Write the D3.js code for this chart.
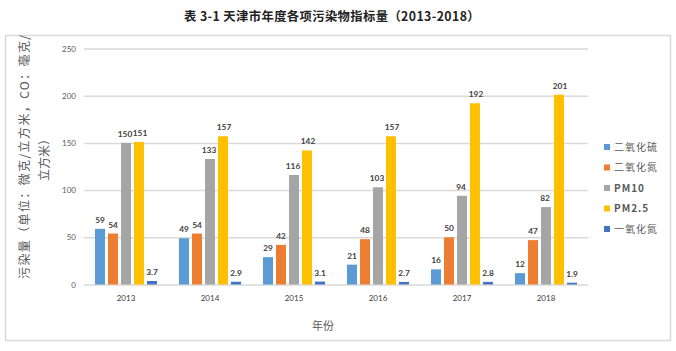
<!DOCTYPE html>
<html>
<head>
<meta charset="utf-8">
<script src="https://cdn.jsdelivr.net/npm/d3@7"></script>
<style>
  body { margin: 0; background: #fff; }
  svg { display: block; font-family: "Noto Sans CJK SC", "Noto Sans", sans-serif; }
</style>
</head>
<body>
<svg width="676" height="351"></svg>
<script>
(function (d3) {
  'use strict';

  const years = ['2013', '2014', '2015', '2016', '2017', '2018'];
  const seriesNames = ['二氧化硫', '二氧化氮', 'PM10', 'PM2.5', '一氧化氮'];
  const so2 = [59, 49, 29, 21, 16, 12];
  const no2 = [54, 54, 42, 48, 50, 47];
  const pm10 = [150, 133, 116, 103, 94, 82];
  const pm25 = [151, 157, 142, 157, 192, 201];
  const co = [3.7, 2.9, 3.1, 2.7, 2.8, 1.9];
  const yTicks = [0, 50, 100, 150, 200, 250];
  const colors = ['#5B9BD5', '#ED7D31', '#A5A5A5', '#FFC000', '#4472C4'];

  const values = [so2, no2, pm10, pm25, co];

  const svg = d3.select('svg');

  // outer frame
  svg.append('rect')
      .attr('x', 5.5).attr('y', 35.5)
      .attr('width', 665).attr('height', 305)
      .attr('fill', 'none')
      .attr('stroke', '#d9d9d9')
      .attr('stroke-width', 1.5);

  svg.append('text')
      .attr('x', 332).attr('y', 21)
      .attr('text-anchor', 'middle')
      .attr('font-size', 12.3)
      .attr('font-weight', 'bold')
      .attr('fill', '#222')
      .attr('letter-spacing', 0.4)
      .text('表 3-1 天津市年度各项污染物指标量（2013-2018）');

  const xScale = d3.scaleBand()
      .domain(years)
      .range([84, 588])
      .paddingInner(0.262)
      .paddingOuter(0.131);

  const xInner = d3.scaleBand()
      .domain(seriesNames)
      .range([0, xScale.bandwidth()])
      .paddingInner(0.23);

  const yScale = d3.scaleLinear()
      .domain([0, 250])
      .range([284.5, 48.5]);

  const color = d3.scaleOrdinal(seriesNames, colors);

  // gridlines + y labels
  const yAxis = d3.axisLeft(yScale)
      .tickValues(yTicks)
      .tickSize(-(588 - 84))
      .tickPadding(8);
  const yAxisG = svg.append('g')
      .attr('transform', 'translate(84,0)')
      .call(yAxis);
  yAxisG.select('.domain').remove();
  yAxisG.selectAll('.tick line')
      .attr('stroke', '#d9d9d9')
      .attr('stroke-width', 1.5);
  yAxisG.selectAll('.tick text')
      .attr('font-size', 8)
      .attr('fill', '#595959')
      .attr('font-family', 'Lato, "Noto Sans", sans-serif');

  // x labels
  const xAxis = d3.axisBottom(xScale).tickSize(0).tickPadding(11);
  const xAxisG = svg.append('g')
      .attr('transform', 'translate(0,284.5)')
      .call(xAxis);
  xAxisG.select('.domain').remove();
  xAxisG.selectAll('.tick text')
      .attr('font-size', 8)
      .attr('fill', '#404040')
      .attr('font-family', 'Lato, "Noto Sans", sans-serif');

  // bars
  const rows = years.map((yr, i) => ({
    year: yr,
    items: seriesNames.map((s, j) => ({ name: s, value: values[j][i], j }))
  }));

  const groups = svg.selectAll('g.year').data(rows)
    .enter().append('g')
      .attr('class', 'year')
      .attr('transform', d => `translate(${xScale(d.year)},0)`);

  groups.selectAll('rect').data(d => d.items)
    .enter().append('rect')
      .attr('x', d => xInner(d.name))
      .attr('y', d => yScale(d.value))
      .attr('width', xInner.bandwidth())
      .attr('height', d => yScale(0) - yScale(d.value))
      .attr('fill', d => color(d.name));

  groups.selectAll('text.lbl').data(d => d.items)
    .enter().append('text')
      .attr('class', 'lbl')
      .attr('x', d => xInner(d.name) + xInner.bandwidth() / 2)
      .attr('y', d => yScale(d.value) - 6)
      .attr('dx', d => d.j === 2 ? -1 : d.j === 3 ? 1 : 0)
      .attr('text-anchor', 'middle')
      .attr('font-size', 8.3)
      .attr('font-weight', 'bold')
      .attr('fill', '#404040')
      .attr('font-family', 'Lato, "Noto Sans", sans-serif')
      .text(d => d.value);

  // axis titles
  const yt = svg.append('text')
      .attr('transform', 'translate(29,157) rotate(-90)')
      .attr('text-anchor', 'middle')
      .attr('font-size', 12)
      .attr('fill', '#595959');
  yt.append('tspan')
      .attr('x', 0).attr('y', 0)
      .attr('textLength', 244)
      .attr('lengthAdjust', 'spacing')
      .text('污染量（单位：微克/立方米，CO：毫克/');
  yt.append('tspan')
      .attr('x', 0).attr('y', 20)
      .text('立方米）');

  svg.append('text')
      .attr('x', 323).attr('y', 330)
      .attr('text-anchor', 'middle')
      .attr('font-size', 11)
      .attr('fill', '#595959')
      .text('年份');

  // legend
  const legend = svg.selectAll('g.leg').data(seriesNames)
    .enter().append('g')
      .attr('class', 'leg')
      .attr('transform', (d, i) => `translate(604,${147 + i * 20.5})`);
  legend.append('rect')
      .attr('x', 0).attr('y', -3)
      .attr('width', 6).attr('height', 6)
      .attr('fill', d => color(d));
  legend.append('text')
      .attr('x', 10).attr('y', 3.5)
      .attr('font-size', 10)
      .attr('fill', '#595959')
      .attr('font-weight', d => d.startsWith('PM') ? 'bold' : 'normal')
      .attr('letter-spacing', 1)
      .text(d => d);

}(d3));
</script>
</body>
</html>
